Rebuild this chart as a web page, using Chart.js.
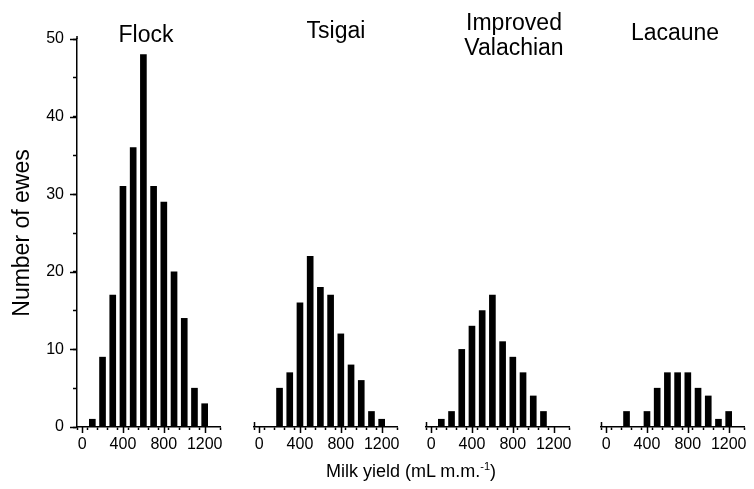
<!DOCTYPE html>
<html>
<head>
<meta charset="utf-8">
<script src="https://cdn.jsdelivr.net/npm/chart.js@4/dist/chart.umd.min.js"></script>
<style>
  body { margin: 0; background: #fff; width: 754px; height: 489px; overflow: hidden; position: relative; }
  canvas { position: absolute; top: 0; }
  #xtitle {
    position: absolute; left: 261px; width: 300px; top: 460px;
    text-align: center; font: 18px "Liberation Sans", Arial, sans-serif; color: #000; line-height: 22px;
  }
  #xtitle sup { font-size: 11px; vertical-align: 7px; line-height: 0; }
</style>
</head>
<body>
<canvas id="p0" width="232" height="489" style="left:0px"></canvas>
<canvas id="p1" width="185" height="489" style="left:242px"></canvas>
<canvas id="p2" width="185" height="489" style="left:414px"></canvas>
<canvas id="p3" width="185" height="489" style="left:589px"></canvas>
<div id="xtitle">Milk yield (mL m.m.<sup>-1</sup>)</div>
<script>
// milk yield bins (mL per milking)
const bins = [100, 200, 300, 400, 500, 600, 700, 800, 900, 1000, 1100, 1200]
const flock = [1, 9, 17, 31, 36, 48, 31, 29, 20, 14, 5, 3]
const tsigai = [0, 5, 7, 16, 22, 18, 17, 12, 8, 6, 2, 1]
const valachian = [1, 2, 10, 13, 15, 17, 11, 9, 7, 4, 2, 0]
const lacaune = [0, 2, 0, 2, 5, 7, 7, 7, 5, 4, 1, 2]
const panelNames = [['Flock'], ['Tsigai'], ['Improved', 'Valachian'], ['Lacaune']]
const xLabels = [0, 400, 800, 1200]
const yLabels = [0, 10, 20, 30, 40, 50]

const series = [flock, tsigai, valachian, lacaune]
// title placement inside each canvas
const titlePos = [[146, 42], [94, 38], [100, 30], [86, 40]]

Chart.defaults.font.family = '"Liberation Sans", Arial, sans-serif'
Chart.defaults.color = '#000'

// longer major ticks + panel titles
const decor = {
  id: 'decor',
  afterDraw (chart, args, opts) {
    const ctx = chart.ctx
    const xs = chart.scales.x
    const ys = chart.scales.y
    const area = chart.chartArea
    ctx.save()
    ctx.strokeStyle = '#000'
    ctx.lineWidth = 1.5
    ctx.beginPath()
    xLabels.forEach(v => {
      const px = Math.round(xs.getPixelForValue(v)) + 0.5
      ctx.moveTo(px, xs.top)
      ctx.lineTo(px, xs.top + 6)
    })
    if (opts.showY) {
      yLabels.forEach(v => {
        const py = Math.round(ys.getPixelForValue(v)) + 0.5
        ctx.moveTo(ys.right, py)
        ctx.lineTo(ys.right - 7, py)
      })
      // axis runs a bit past 50
      ctx.moveTo(area.left, area.top)
      ctx.lineTo(area.left, area.top - 3)
    } else {
      // little stub at left end of axis
      ctx.moveTo(area.left + 0.5, area.bottom)
      ctx.lineTo(area.left + 0.5, area.bottom - 5)
    }
    ctx.stroke()

    ctx.fillStyle = '#000'
    ctx.font = '23px "Liberation Sans", Arial, sans-serif'
    ctx.textAlign = 'center'
    ctx.textBaseline = 'alphabetic'
    opts.lines.forEach((t, i) => ctx.fillText(t, opts.tx, opts.ty + i * 25))
    ctx.restore()
  }
}

series.forEach(function (vals, i) {
  const showY = i === 0
  new Chart(document.getElementById('p' + i), {
    type: 'bar',
    data: {
      datasets: [{
        data: bins.map((b, k) => ({ x: b, y: vals[k] })),
        backgroundColor: '#000',
        borderWidth: 0,
        barThickness: 6
      }]
    },
    options: {
      responsive: false,
      animation: false,
      layout: { padding: { left: showY ? 0 : 12, right: showY ? 12 : 30, top: 39, bottom: 0 } },
      plugins: {
        legend: { display: false },
        tooltip: { enabled: false },
        decor: { showY: showY, lines: panelNames[i], tx: titlePos[i][0], ty: titlePos[i][1] }
      },
      scales: {
        x: {
          type: 'linear',
          min: 0,
          max: 1300,
          afterFit: s => { s.height = 62 },
          border: { color: '#000', width: 1.5 },
          grid: {
            drawOnChartArea: false,
            tickLength: 3,
            tickWidth: 1.5,
            tickColor: c => (c.tick && c.tick.value > 1200) ? 'rgba(0,0,0,0)' : '#000'
          },
          ticks: {
            stepSize: 100,
            autoSkip: false,
            maxRotation: 0,
            padding: 5,
            font: { size: 16 },
            callback: v => xLabels.includes(v) ? String(v) : ''
          }
        },
        y: {
          display: showY,
          min: 0,
          max: 50,
          afterFit: s => { if (showY) s.width = 77 },
          border: { color: '#000', width: 1.5 },
          grid: { drawOnChartArea: false, tickLength: 4, tickWidth: 1.5, tickColor: '#000' },
          ticks: {
            stepSize: 5,
            autoSkip: false,
            padding: 9,
            font: { size: 16 },
            callback: v => yLabels.includes(v) ? String(v) : ''
          },
          title: {
            display: true,
            text: 'Number of ewes',
            font: { size: 23 },
            padding: { top: 9, bottom: 0 }
          }
        }
      }
    },
    plugins: [decor]
  })
})
</script>
</body>
</html>
